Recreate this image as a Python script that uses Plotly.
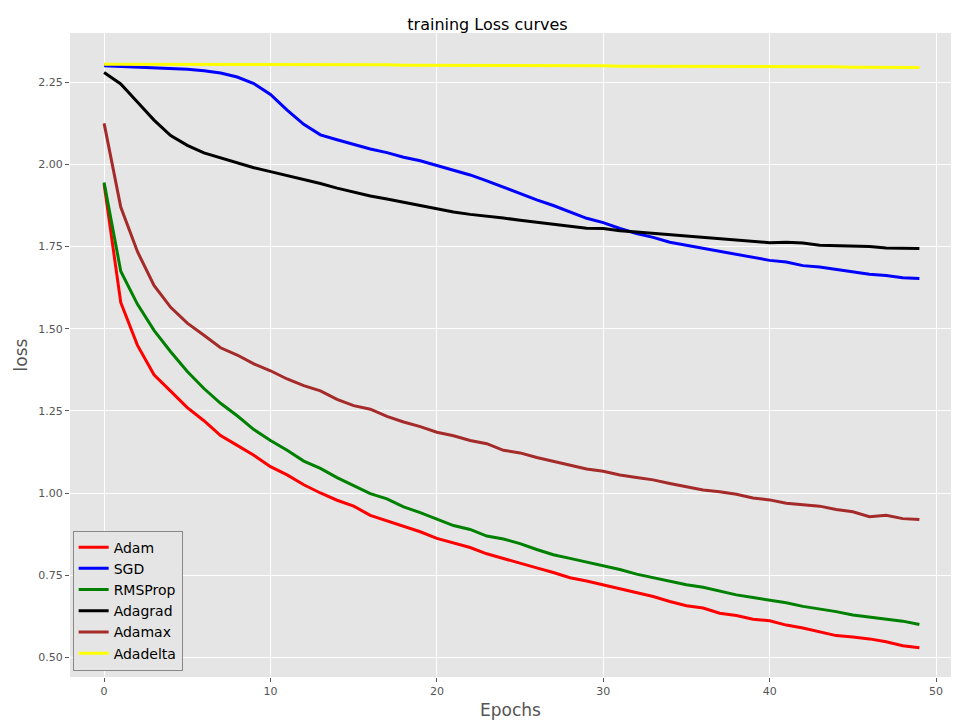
import plotly.graph_objects as go

epochs = list(range(50))
adam = [1.94, 1.58, 1.45, 1.36, 1.31, 1.26, 1.22, 1.175, 1.145, 1.115, 1.08, 1.055, 1.025, 1.0, 0.978, 0.96, 0.932, 0.915, 0.898, 0.882,
        0.862, 0.848, 0.834, 0.815, 0.8, 0.785, 0.772, 0.758, 0.742, 0.732, 0.72, 0.708, 0.695, 0.685, 0.67, 0.657, 0.65, 0.634, 0.627, 0.616,
        0.611, 0.598, 0.589, 0.577, 0.566, 0.562, 0.556, 0.547, 0.535, 0.529]
sgd = [2.30, 2.298, 2.296, 2.294, 2.292, 2.29, 2.285, 2.278, 2.266, 2.246, 2.213, 2.165, 2.122, 2.09, 2.075, 2.06, 2.047, 2.036, 2.022, 2.011,
       1.997, 1.982, 1.968, 1.95, 1.93, 1.912, 1.892, 1.875, 1.856, 1.836, 1.823, 1.805, 1.79, 1.778, 1.763, 1.754, 1.745, 1.734, 1.727, 1.718,
       1.708, 1.703, 1.692, 1.688, 1.68, 1.674, 1.666, 1.662, 1.655, 1.653]
rmsprop = [1.945, 1.675, 1.575, 1.495, 1.43, 1.37, 1.318, 1.273, 1.235, 1.193, 1.16, 1.13, 1.097, 1.075, 1.047, 1.022, 0.998, 0.982, 0.958, 0.94,
           0.92, 0.901, 0.889, 0.869, 0.86, 0.846, 0.828, 0.812, 0.801, 0.79, 0.778, 0.767, 0.753, 0.742, 0.73, 0.721, 0.713, 0.701, 0.69, 0.682,
           0.674, 0.666, 0.655, 0.648, 0.639, 0.629, 0.623, 0.616, 0.61, 0.6]
adagrad = [2.28, 2.245, 2.19, 2.135, 2.088, 2.058, 2.035, 2.02, 2.007, 1.99, 1.978, 1.966, 1.955, 1.942, 1.928, 1.916, 1.904, 1.895, 1.885, 1.873,
           1.863, 1.855, 1.848, 1.843, 1.837, 1.83, 1.824, 1.818, 1.812, 1.806, 1.805, 1.798, 1.794, 1.79, 1.787, 1.784, 1.778, 1.776, 1.771, 1.766,
           1.762, 1.763, 1.761, 1.754, 1.753, 1.753, 1.75, 1.746, 1.745, 1.744]
adamax = [2.125, 1.87, 1.735, 1.632, 1.565, 1.517, 1.48, 1.442, 1.42, 1.393, 1.372, 1.347, 1.327, 1.311, 1.285, 1.266, 1.255, 1.233, 1.216, 1.202,
          1.185, 1.174, 1.16, 1.15, 1.13, 1.122, 1.108, 1.097, 1.085, 1.073, 1.066, 1.055, 1.047, 1.04, 1.029, 1.019, 1.009, 1.004, 0.996, 0.985,
          0.979, 0.969, 0.965, 0.96, 0.95, 0.943, 0.928, 0.932, 0.922, 0.919]
adadelta = [2.305, 2.305, 2.305, 2.305, 2.305, 2.305, 2.305, 2.305, 2.305, 2.305, 2.305, 2.304, 2.304, 2.304, 2.304, 2.303, 2.303, 2.303, 2.302, 2.302,
            2.302, 2.301, 2.301, 2.301, 2.301, 2.300, 2.300, 2.300, 2.300, 2.300, 2.300, 2.299, 2.299, 2.299, 2.299, 2.298, 2.298, 2.298, 2.298, 2.298,
            2.298, 2.297, 2.297, 2.297, 2.297, 2.296, 2.296, 2.296, 2.296, 2.295]

series = [("Adam", adam, "red"), ("SGD", sgd, "blue"), ("RMSProp", rmsprop, "green"),
          ("Adagrad", adagrad, "black"), ("Adamax", adamax, "brown"), ("Adadelta", adadelta, "yellow")]

fig = go.Figure()
for name, ys, col in series:
    fig.add_trace(go.Scatter(x=epochs, y=ys, mode="lines", name=name, line=dict(color=col, width=3)))

axis = dict(showgrid=True, gridcolor="white", gridwidth=1, zeroline=False, ticks="outside", ticklen=4,
            tickcolor="#555", tickfont=dict(size=11, color="#555"), title_font=dict(size=17, color="#555"))
fig.update_layout(
    width=959, height=720, paper_bgcolor="white", plot_bgcolor="#E5E5E5",
    margin=dict(l=62, r=16, t=25, b=43),
    font=dict(family="DejaVu Sans"),
    title=dict(text="training Loss curves", x=0.5, xanchor="center", y=0.985, yanchor="top", font=dict(size=16, color="black")),
    xaxis=dict(axis, title=dict(text="Epochs", standoff=6), range=[-2.05, 50.9], tickvals=[0, 10, 20, 30, 40, 50]),
    yaxis=dict(axis, title=dict(text="loss", standoff=6), range=[0.44, 2.40],
               tickvals=[0.5, 0.75, 1.0, 1.25, 1.5, 1.75, 2.0, 2.25], tickformat=".2f"),
    legend=dict(x=0.003, y=0.01, xanchor="left", yanchor="bottom", bgcolor="#E5E5E5",
                bordercolor="#888", borderwidth=1, font=dict(size=14, color="black")),
)
fig.write_html("out.html")
